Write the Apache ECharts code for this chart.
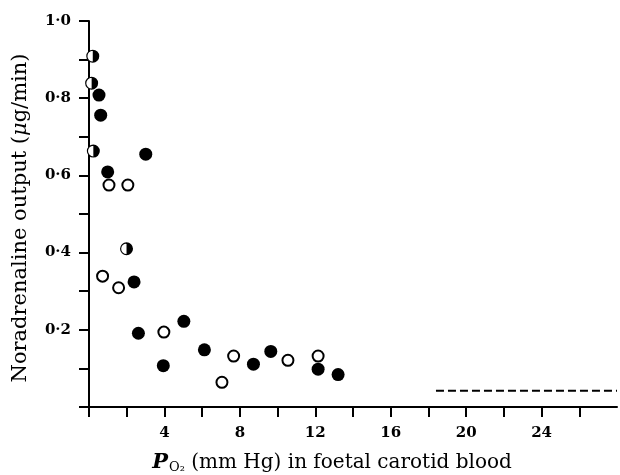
<!DOCTYPE html>
<html><head><meta charset="utf-8">
<script src="https://cdn.jsdelivr.net/npm/echarts@6/dist/echarts.min.js"></script>
<style>html,body{margin:0;padding:0;background:#fff}#c{width:620px;height:475px}</style>
</head><body><div id="c"></div>
<script>
// Data
var filledX = [0.53, 0.62, 0.99, 3.01, 2.39, 2.62, 5.03, 3.94, 6.12, 8.72, 9.64, 12.15, 13.21];
var filledY = [0.808, 0.756, 0.609, 0.655, 0.324, 0.191, 0.222, 0.107, 0.148, 0.111, 0.144, 0.098, 0.084];
var openX = [1.06, 2.06, 0.72, 1.57, 3.97, 7.67, 7.05, 10.55, 12.15];
var openY = [0.575, 0.575, 0.339, 0.309, 0.194, 0.132, 0.064, 0.121, 0.132];
var halfX = [0.2, 0.14, 0.23, 1.99];
var halfY = [0.909, 0.839, 0.663, 0.41];
var dashX = [18.4, 28];
var dashY = [0.042, 0.042];
var xTickValues = [0, 2, 4, 6, 8, 10, 12, 14, 16, 18, 20, 22, 24, 26];
var xTickLabels = ['4', '8', '12', '16', '20', '24'];
var yTickLabels = ['0·2', '0·4', '0·6', '0·8', '1·0'];

function pairs(xs, ys) { return xs.map(function (x, i) { return [x, ys[i]]; }); }

var halfPath = 'path://M0,-10 A10,10 0 0,1 0,10 Z M0,-10 A10,10 0 0,0 0,10 L0,8.2 A8.2,8.2 0 0,1 0,-8.2 Z';
var serif = '"DejaVu Serif", "Liberation Serif", serif';

var chart = echarts.init(document.getElementById('c'), null, {renderer: 'canvas'});
chart.setOption({
  backgroundColor: '#fff',
  animation: false,
  grid: {left: 89, top: 21, right: 0, bottom: 68, containLabel: false},
  xAxis: {
    type: 'value', min: 0, max: 28, interval: 2,
    axisLine: {show: true, onZero: false, lineStyle: {color: '#000', width: 2}},
    axisTick: {show: true, length: 10, customValues: xTickValues, lineStyle: {color: '#000', width: 2}},
    splitLine: {show: false},
    axisLabel: {
      margin: 19, color: '#000', fontFamily: serif, fontWeight: 'bold', fontSize: 15,
      showMinLabel: true, showMaxLabel: true,
      formatter: function (v) {
        var s = String(Math.round(v));
        return xTickLabels.indexOf(s) >= 0 ? s : '';
      }
    }
  },
  yAxis: {
    type: 'value', min: 0, max: 1.0, interval: 0.1,
    axisLine: {show: true, onZero: false, lineStyle: {color: '#000', width: 2}},
    axisTick: {show: true, length: 10, lineStyle: {color: '#000', width: 2}},
    splitLine: {show: false},
    axisLabel: {
      margin: 18, color: '#000', fontFamily: serif, fontWeight: 'bold', fontSize: 15,
      formatter: function (v) {
        var s = v.toFixed(1).replace('.', '·');
        return yTickLabels.indexOf(s) >= 0 ? s : '';
      }
    }
  },
  graphic: [
    {
      type: 'text', rotation: Math.PI / 2,
      x: 21, y: 218,
      style: {
        text: '{a|Noradrenaline output (}{i|μ}{a|g/min)}',
        align: 'center', verticalAlign: 'middle',
        rich: {
          a: {fontFamily: serif, fontSize: 21, fill: '#000'},
          i: {fontFamily: serif, fontSize: 21, fontStyle: 'italic', fill: '#000'}
        }
      }
    },
    {
      type: 'text', x: 332, y: 463,
      style: {
        text: '{i|P}{s|O₂}{a| (mm Hg) in foetal carotid blood}',
        align: 'center', verticalAlign: 'middle',
        rich: {
          a: {fontFamily: serif, fontSize: 20, fill: '#000'},
          i: {fontFamily: serif, fontSize: 21, fontStyle: 'italic', fontWeight: 'bold', fill: '#000'},
          s: {fontFamily: serif, fontSize: 13, fill: '#000', verticalAlign: 'bottom', padding: [10, 0, 0, 1]}
        }
      }
    }
  ],
  series: [
    {
      type: 'line', data: pairs(dashX, dashY), symbol: 'none', silent: true,
      lineStyle: {color: '#000', width: 2, type: [8, 4]}, z: 2
    },
    {
      type: 'scatter', data: pairs(filledX, filledY), symbol: 'circle', symbolSize: 13,
      itemStyle: {color: '#000', opacity: 1}, z: 3
    },
    {
      type: 'scatter', data: pairs(openX, openY), symbol: 'circle', symbolSize: 11,
      itemStyle: {color: '#fff', borderColor: '#000', borderWidth: 2, opacity: 1}, z: 3
    },
    {
      type: 'scatter', data: pairs(halfX, halfY), symbol: 'circle', symbolSize: 12,
      itemStyle: {color: '#fff', borderColor: '#fff', borderWidth: 0, opacity: 1}, z: 4
    },
    {
      type: 'scatter', data: pairs(halfX, halfY), symbol: halfPath, symbolSize: 13,
      itemStyle: {color: '#000', opacity: 1}, z: 5
    }
  ]
});
</script>
</body></html>
